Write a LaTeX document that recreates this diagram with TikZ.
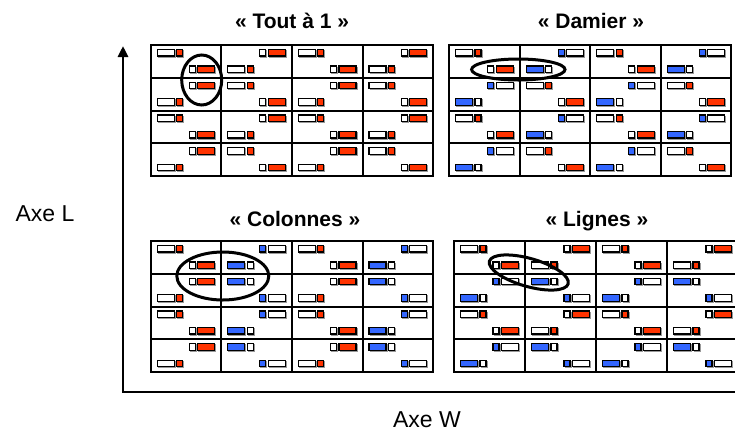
\documentclass[tikz,border=0pt]{standalone}
\usepackage{fontspec}
\setmainfont{Liberation Sans}
\usetikzlibrary{arrows.meta}
\definecolor{redc}{RGB}{255,51,0}
\definecolor{bluec}{RGB}{51,102,255}
\tikzset{
  box/.style={draw=black, line width=1.1pt},
  shadowbox/.style={draw=black!40, line width=1pt},
  gridline/.style={draw=black, line width=2pt},
  loopmark/.style={draw=black, line width=3pt},
  titletext/.style={font=\fontsize{21}{25}\selectfont\bfseries, inner sep=0pt, anchor=base},
  axelabel/.style={font=\fontsize{23}{27}\selectfont, inner sep=0pt, anchor=base},
  axisline/.style={draw=black, line width=2.8pt, line join=miter},
}
\newcommand{\onebox}[5]{%
  \draw[shadowbox] (#1+1,#2+1) rectangle (#3+1,#4+1);
  \filldraw[box, fill=#5] (#1,#2) rectangle (#3,#4);
}
\newcommand{\pairLeft}[4]{%
  \onebox{#1+6.5}{#2}{#1+23.5}{#2+6.5}{#3}%
  \onebox{#1+26}{#2}{#1+32}{#2+6.5}{#4}%
}
\newcommand{\pairRight}[4]{%
  \onebox{#1-32}{#2}{#1-26}{#2+6.5}{#3}%
  \onebox{#1-23.5}{#2}{#1-6.5}{#2+6.5}{#4}%
}
\newcommand{\drawgrid}[4]{% x0, y0, red-expression, column width
  \foreach \i in {0,...,3}{%
    \foreach \j in {0,...,3}{%
      \pgfmathsetmacro{\cx}{#1+\j*#4}%
      \pgfmathsetmacro{\rx}{\cx+#4}%
      \pgfmathsetmacro{\cy}{#2+\i*32.75}%
      \pgfmathsetmacro{\ta}{\cy+4.5}%
      \pgfmathsetmacro{\tb}{\cy+21}%
      \pgfmathtruncatemacro{\typeA}{mod(\i+\j,2)==0 ? 1 : 0}%
      \pgfmathtruncatemacro{\isred}{#3}%
      \ifnum\isred=1 \def\lfc{white}\def\rfc{redc}\else\def\lfc{bluec}\def\rfc{white}\fi
      \ifnum\typeA=1
        \pairLeft{\cx}{\ta}{\lfc}{\rfc}\pairRight{\rx}{\tb}{\lfc}{\rfc}%
      \else
        \pairRight{\rx}{\ta}{\lfc}{\rfc}\pairLeft{\cx}{\tb}{\lfc}{\rfc}%
      \fi
    }}%
  \draw[gridline] (#1,#2) rectangle (#1+4*#4,#2+131);
  \foreach \k in {1,2,3}{%
    \draw[gridline] (#1+\k*#4,#2) -- (#1+\k*#4,#2+131);
    \draw[gridline] (#1,#2+\k*32.75) -- (#1+4*#4,#2+\k*32.75);
  }%
}
\begin{document}
\begin{tikzpicture}[x=1pt,y=-1pt]
\useasboundingbox (0,0) rectangle (735,432);
\clip (0,0) rectangle (735,432);
\fill[white] (0,0) rectangle (735,432);

% grids
\drawgrid{150.7}{45}{1}{70.6}
\drawgrid{449}{45}{mod(\i+\j,2)==0}{70.6}
\drawgrid{150.7}{241}{mod(\j,2)==0}{70.6}
\drawgrid{454}{241}{mod(\i,2)==0}{71}

% titles
\node[titletext] (t1) at (292,28) {« Tout à 1 »};
\node[titletext] (t2) at (591,28) {« Damier »};
\node[titletext] (t3) at (295,226.5) {« Colonnes »};
\node[titletext] (t4) at (597,226.5) {« Lignes »};

% highlight ellipses
\draw[loopmark] (201.7,80) ellipse [x radius=20pt, y radius=25pt];
\draw[loopmark] (518.3,69.5) ellipse [x radius=46.7pt, y radius=10.5pt];
\draw[loopmark] (222.8,276) ellipse [x radius=46pt, y radius=24pt];
\draw[loopmark, rotate around={-16:(528.8,272.5)}] (528.8,272.5) ellipse [x radius=41pt, y radius=14pt];

% axes
\coordinate (O) at (123,392);
\coordinate (Ltop) at (123,46);
\coordinate (Wend) at (745,392);
\draw[axisline, {Triangle[width=10pt,length=11pt]}-] (Ltop) -- (O) -- (Wend);

\node[axelabel] (axeL) at (45,221) {Axe L};
\node[axelabel] (axeW) at (427,427.5) {Axe W};
\end{tikzpicture}
\end{document}
